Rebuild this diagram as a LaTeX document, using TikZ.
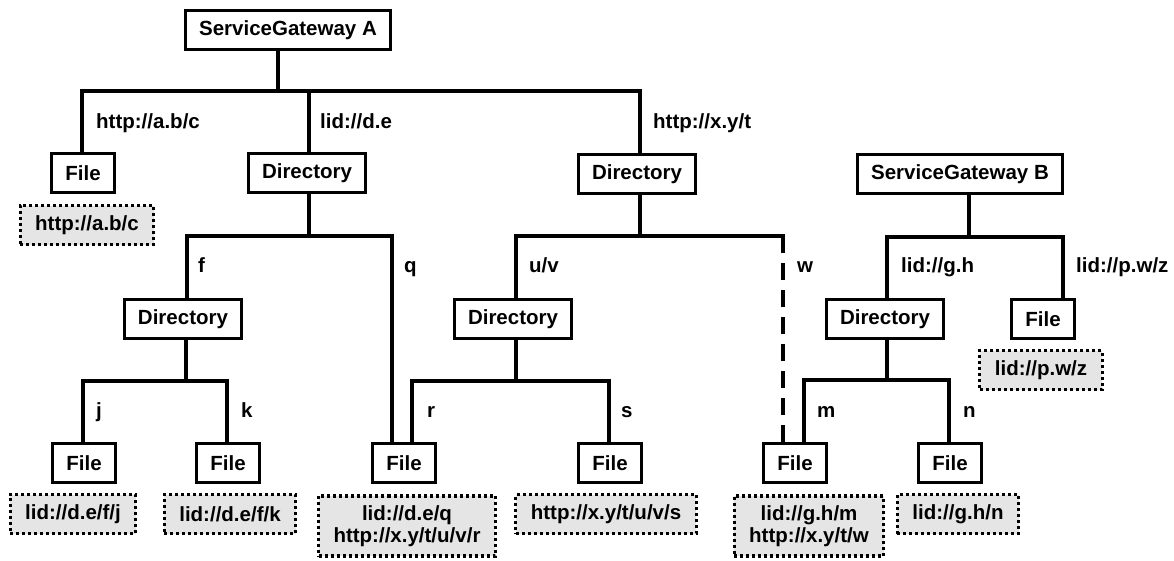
\documentclass[tikz,border=0pt]{standalone}
\usepackage{fontspec}
\setmainfont{Liberation Sans}
\begin{document}
\begin{tikzpicture}[x=1pt,y=-1pt,
  every node/.style={font=\fontsize{20.5}{22}\selectfont\bfseries},
  box/.style={draw, line width=3.2pt, fill=white, inner xsep=13.8pt, inner ysep=0pt, minimum height=39.5pt},
  lbl/.style={draw, line width=3.2pt, dash pattern=on 3pt off 3pt, fill=black!10, inner xsep=15pt, inner ysep=9.5pt, minimum height=39pt, align=center},
  elab/.style={anchor=base west, inner sep=0pt},
  conn/.style={line width=3.6pt, line cap=rect},
  dconn/.style={line width=3.6pt, dash pattern=on 16.5pt off 10.5pt},
  ]
\useasboundingbox (0,0) rectangle (1174,560);

% main nodes
\node[box] (sga) at (288,30) {ServiceGateway A};
\node[box] (fac) at (83,173) {File};
\node[box] (d1) at (307,173) {Directory};
\node[box] (d2) at (637,174) {Directory};
\node[box] (sgb) at (960,174) {ServiceGateway B};
\node[box] (df) at (183,319) {Directory};
\node[box] (duv) at (513,319) {Directory};
\node[box] (dgh) at (885,319) {Directory};
\node[box] (fpwz) at (1043,319) {File};
\node[box] (fj) at (84,463) {File};
\node[box] (fk) at (228,463) {File};
\node[box] (fq) at (404,463) {File};
\node[box] (fs) at (610,463) {File};
\node[box] (fm) at (795,463) {File};
\node[box] (fn) at (950,463) {File};

% identifier boxes
\node[lbl] (lac) at (87,225) {http://a.b/c};
\node[lbl] (lpwz) at (1041,370) {lid://p.w/z};
\node[lbl] (lj) at (73,514) {lid://d.e/f/j};
\node[lbl] (lk) at (230,514) {lid://d.e/f/k};
\node[lbl] (lq) at (407,526) {lid://d.e/q\\http://x.y/t/u/v/r};
\node[lbl] (ls) at (606,514) {http://x.y/t/u/v/s};
\node[lbl] (lm) at (809,526) {lid://g.h/m\\http://x.y/t/w};
\node[lbl] (ln) at (958,514) {lid://g.h/n};

% junction coordinates
\coordinate (a0) at (278,91);
\coordinate (a1) at (82,91);
\coordinate (a2) at (309,91);
\coordinate (a3) at (640,91);
\coordinate (b0) at (309,236);
\coordinate (b1) at (187,236);
\coordinate (b2) at (392,236);
\coordinate (c0) at (640,236);
\coordinate (c1) at (516,236);
\coordinate (c2) at (783,236);
\coordinate (e0) at (516,381);
\coordinate (e1) at (412,381);
\coordinate (e2) at (609,381);
\coordinate (g0) at (186,381);
\coordinate (g1) at (83,381);
\coordinate (g2) at (227,381);
\coordinate (h0) at (969,237);
\coordinate (h1) at (887,237);
\coordinate (h2) at (1063,237);
\coordinate (i0) at (887,380);
\coordinate (i1) at (804,380);
\coordinate (i2) at (949,380);

% connectors
\draw[conn] (a0 |- sga.south) -- (a0);
\draw[conn] (a1 |- fac.north) -- (a1) -- (a3) -- (a3 |- d2.north);
\draw[conn] (a2) -- (a2 |- d1.north);

\draw[conn] (b0 |- d1.south) -- (b0);
\draw[conn] (b1 |- df.north) -- (b1) -- (b2) -- (b2 |- fq.north);

\draw[conn] (c0 |- d2.south) -- (c0);
\draw[conn] (c1 |- duv.north) -- (c1) -- (c2);
\draw[dconn] (c2 |- fm.north) -- (c2);

\draw[conn] (e0 |- duv.south) -- (e0);
\draw[conn] (e1 |- fq.north) -- (e1) -- (e2) -- (e2 |- fs.north);

\draw[conn] (g0 |- df.south) -- (g0);
\draw[conn] (g1 |- fj.north) -- (g1) -- (g2) -- (g2 |- fk.north);

\draw[conn] (h0 |- sgb.south) -- (h0);
\draw[conn] (h1 |- dgh.north) -- (h1) -- (h2) -- (h2 |- fpwz.north);

\draw[conn] (i0 |- dgh.south) -- (i0);
\draw[conn] (i1 |- fm.north) -- (i1) -- (i2) -- (i2 |- fn.north);

% edge labels
\node[elab] (t1) at (96,128) {http://a.b/c};
\node[elab] (t2) at (320,128) {lid://d.e};
\node[elab] (t3) at (653,128) {http://x.y/t};
\node[elab] (t4) at (198,272) {f};
\node[elab] (t5) at (404,272) {q};
\node[elab] (t6) at (529,272) {u/v};
\node[elab] (t7) at (797,272) {w};
\node[elab] (t8) at (901,272) {lid://g.h};
\node[elab] (t9) at (1076,272) {lid://p.w/z};
\node[elab] (t10) at (96,417) {j};
\node[elab] (t11) at (241,417) {k};
\node[elab] (t12) at (427,417) {r};
\node[elab] (t13) at (621,417) {s};
\node[elab] (t14) at (817,417) {m};
\node[elab] (t15) at (963,417) {n};
\end{tikzpicture}
\end{document}
